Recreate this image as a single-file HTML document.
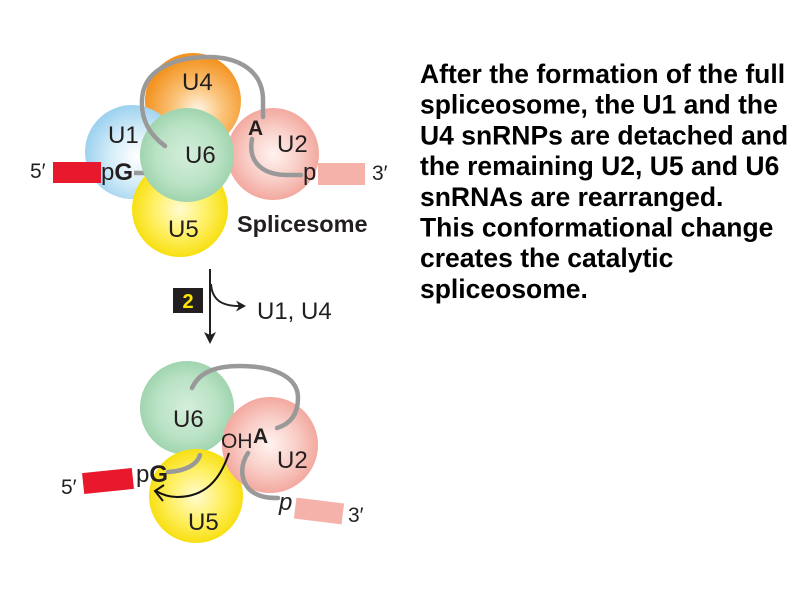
<!DOCTYPE html>
<html>
<head>
<meta charset="utf-8">
<style>
  html,body{margin:0;padding:0;background:#fff;}
  body{width:800px;height:600px;overflow:hidden;}
  svg{display:block;}
  text{font-family:"Liberation Sans", Arial, sans-serif;fill:#231f20;}
</style>
</head>
<body>
<svg width="800" height="600" viewBox="0 0 800 600" xmlns="http://www.w3.org/2000/svg">
  <defs>
    <radialGradient id="gOr" cx="55%" cy="60%" r="55%">
      <stop offset="0" stop-color="#fff6e8"/>
      <stop offset="0.45" stop-color="#fbc57e"/>
      <stop offset="1" stop-color="#f39422"/>
    </radialGradient>
    <radialGradient id="gBl" cx="55%" cy="55%" r="55%">
      <stop offset="0" stop-color="#ffffff"/>
      <stop offset="0.5" stop-color="#d6edf9"/>
      <stop offset="1" stop-color="#9ed2ef"/>
    </radialGradient>
    <radialGradient id="gGr" cx="50%" cy="50%" r="55%">
      <stop offset="0" stop-color="#d4eedb"/>
      <stop offset="0.6" stop-color="#b9e2c4"/>
      <stop offset="1" stop-color="#98d0a8"/>
    </radialGradient>
    <radialGradient id="gPk" cx="50%" cy="50%" r="55%">
      <stop offset="0" stop-color="#fff3f0"/>
      <stop offset="0.5" stop-color="#f9cfc8"/>
      <stop offset="1" stop-color="#f1a096"/>
    </radialGradient>
    <radialGradient id="gYe" cx="50%" cy="50%" r="55%">
      <stop offset="0" stop-color="#fffbd0"/>
      <stop offset="0.5" stop-color="#fff066"/>
      <stop offset="1" stop-color="#f6dc00"/>
    </radialGradient>
  </defs>

  <!-- ===== TOP DIAGRAM ===== -->
  <circle cx="193" cy="101" r="48" fill="url(#gOr)"/>
  <circle cx="132" cy="152" r="47" fill="url(#gBl)"/>
  <circle cx="273" cy="154" r="46" fill="url(#gPk)"/>
  <circle cx="180" cy="209" r="48" fill="url(#gYe)"/>
  <path d="M134,173 L150,173" stroke="#999" stroke-width="4.5" fill="none"/>
  <circle cx="187" cy="155" r="47" fill="url(#gGr)"/>

  <!-- gray RNA lines -->
  <path d="M165,146 C150,135 141,120 142,100 C143,72 170,58 205,57 C240,56 263,72 263,100 L263,117" stroke="#999" stroke-width="4.5" fill="none" stroke-linecap="round"/>
  <path d="M252,139 C248,160 260,174 285,175 L301,175" stroke="#999" stroke-width="4.5" fill="none" stroke-linecap="round"/>

  <!-- exon boxes -->
  <rect x="53" y="162" width="48" height="21" fill="#e8192c"/>
  <rect x="318" y="163" width="47" height="22" fill="#f5b2aa"/>

  <!-- labels -->
  <text x="182" y="90" font-size="24">U4</text>
  <text x="108" y="143" font-size="24">U1</text>
  <text x="185" y="163" font-size="24">U6</text>
  <text x="277" y="152" font-size="24">U2</text>
  <text x="168" y="237" font-size="24">U5</text>
  <text x="248" y="135" font-size="21" font-weight="bold">A</text>
  <text x="30" y="178" font-size="21">5′</text>
  <text x="101" y="180" font-size="24">p<tspan font-weight="bold">G</tspan></text>
  <text x="303" y="180" font-size="24">p</text>
  <text x="372" y="180" font-size="21">3′</text>
  <text x="237" y="232" font-size="23.5" font-weight="bold">Splicesome</text>

  <!-- ===== MIDDLE ARROW ===== -->
  <path d="M210,269 L210,337" stroke="#231f20" stroke-width="2" fill="none"/>
  <polygon points="204,332 210,344 216,332 210,335" fill="#231f20"/>
  <path d="M211,284 C212,300 222,306 239,306" stroke="#231f20" stroke-width="2" fill="none"/>
  <polygon points="236,300.5 246,306 236,311.5 239,306" fill="#231f20"/>
  <rect x="173" y="288" width="30" height="25" fill="#231f20"/>
  <text x="188" y="308" font-size="20" font-weight="bold" text-anchor="middle" style="fill:#ffe600">2</text>
  <text x="257" y="319" font-size="24">U1, U4</text>

  <!-- ===== BOTTOM DIAGRAM ===== -->
  <circle cx="187" cy="408" r="47" fill="url(#gGr)"/>
  <circle cx="196" cy="496" r="47" fill="url(#gYe)"/>
  <circle cx="270" cy="445" r="48" fill="url(#gPk)"/>

  <path d="M192,388 C200,370 220,366 240,366 C270,366 298,375 298,398 C298,415 290,424 277,428" stroke="#999" stroke-width="4.5" fill="none" stroke-linecap="round"/>
  <path d="M200,455 C197,465 185,471 168,472" stroke="#999" stroke-width="4.5" fill="none" stroke-linecap="round"/>
  <path d="M248,453 C240,465 240,480 250,490 C258,497 268,498 278,498" stroke="#999" stroke-width="4.5" fill="none" stroke-linecap="round"/>

  <!-- black arrow -->
  <path d="M229,453 C220,480 205,497 177,497 C168,497 161,494 156,491" stroke="#111" stroke-width="2" fill="none"/>
  <path d="M164,485 L155,491 L163,501" stroke="#111" stroke-width="2" fill="none"/>

  <!-- exon boxes -->
  <rect x="83" y="470.5" width="50" height="21" fill="#e8192c" transform="rotate(-6 108 481)"/>
  <rect x="295" y="500.5" width="48" height="21" fill="#f5b2aa" transform="rotate(7 319 511)"/>

  <!-- labels -->
  <text x="173" y="427" font-size="24">U6</text>
  <text x="277" y="468" font-size="24">U2</text>
  <text x="188" y="530" font-size="24">U5</text>
  <text x="221" y="448" font-size="21">OH</text>
  <text x="253" y="443" font-size="21" font-weight="bold">A</text>
  <text x="136" y="482" font-size="24">p<tspan font-weight="bold">G</tspan></text>
  <text x="61" y="494" font-size="21">5′</text>
  <text x="279" y="510" font-size="24" font-style="italic">p</text>
  <text x="348" y="522" font-size="21">3′</text>

  <!-- ===== PARAGRAPH ===== -->
  <g font-size="26.5" font-weight="bold">
    <text x="420" y="83" style="fill:#000">After the formation of the full</text>
    <text x="420" y="113.7" style="fill:#000">spliceosome, the U1 and the</text>
    <text x="420" y="144.4" style="fill:#000">U4 snRNPs are detached and</text>
    <text x="420" y="175.1" style="fill:#000">the remaining U2, U5 and U6</text>
    <text x="420" y="205.8" style="fill:#000">snRNAs are rearranged.</text>
    <text x="420" y="236.5" style="fill:#000">This conformational change</text>
    <text x="420" y="267.2" style="fill:#000">creates the catalytic</text>
    <text x="420" y="297.9" style="fill:#000">spliceosome.</text>
  </g>
</svg>
</body>
</html>
